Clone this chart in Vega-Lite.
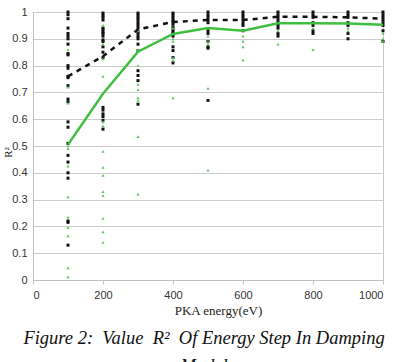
{
  "$schema": "https://vega.github.io/schema/vega-lite/v6.json",
  "width": 350,
  "height": 268,
  "autosize": "none",
  "padding": {"left": 33, "top": 12, "right": 15, "bottom": 82},
  "background": "white",
  "config": {
    "view": {"stroke": "#c8c8c8", "strokeWidth": 1},
    "font": "Liberation Sans"
  },
  "title": {
    "text": ["Figure 2:\u00a0 Value\u00a0 R²\u00a0 Of Energy Step In Damping", "Model"],
    "orient": "bottom",
    "anchor": "middle",
    "dx": -4,
    "font": "Liberation Serif",
    "fontStyle": "italic",
    "fontWeight": "normal",
    "fontSize": 18.5,
    "lineHeight": 28,
    "color": "#111",
    "offset": 12
  },
  "datasets": {
    "trials": [
      {"e":100,"r":1.0,"s":"dense"},{"e":100,"r":0.99,"s":"dense"},{"e":100,"r":0.975,"s":"dense"},{"e":100,"r":0.94,"s":"dense"},{"e":100,"r":0.92,"s":"dense"},{"e":100,"r":0.91,"s":"dense"},{"e":100,"r":0.90,"s":"dense"},{"e":100,"r":0.88,"s":"dense"},{"e":100,"r":0.845,"s":"dense"},{"e":100,"r":0.84,"s":"dense"},{"e":100,"r":0.80,"s":"dense"},{"e":100,"r":0.79,"s":"dense"},{"e":100,"r":0.76,"s":"dense"},{"e":100,"r":0.755,"s":"dense"},{"e":100,"r":0.725,"s":"dense"},{"e":100,"r":0.675,"s":"dense"},{"e":100,"r":0.665,"s":"dense"},{"e":100,"r":0.59,"s":"dense"},{"e":100,"r":0.57,"s":"dense"},{"e":100,"r":0.51,"s":"dense"},{"e":100,"r":0.465,"s":"dense"},{"e":100,"r":0.44,"s":"dense"},{"e":100,"r":0.40,"s":"dense"},{"e":100,"r":0.38,"s":"dense"},{"e":100,"r":0.22,"s":"dense"},{"e":100,"r":0.215,"s":"dense"},{"e":100,"r":0.13,"s":"dense"},
      {"e":100,"r":0.86,"s":"sparse"},{"e":100,"r":0.72,"s":"sparse"},{"e":100,"r":0.66,"s":"sparse"},{"e":100,"r":0.50,"s":"sparse"},{"e":100,"r":0.49,"s":"sparse"},{"e":100,"r":0.425,"s":"sparse"},{"e":100,"r":0.31,"s":"sparse"},{"e":100,"r":0.235,"s":"sparse"},{"e":100,"r":0.195,"s":"sparse"},{"e":100,"r":0.165,"s":"sparse"},{"e":100,"r":0.045,"s":"sparse"},{"e":100,"r":0.012,"s":"sparse"},
      {"e":200,"r":0.996,"s":"dense"},{"e":200,"r":0.988,"s":"dense"},{"e":200,"r":0.98,"s":"dense"},{"e":200,"r":0.97,"s":"dense"},{"e":200,"r":0.94,"s":"dense"},{"e":200,"r":0.934,"s":"dense"},{"e":200,"r":0.925,"s":"dense"},{"e":200,"r":0.92,"s":"dense"},{"e":200,"r":0.91,"s":"dense"},{"e":200,"r":0.896,"s":"dense"},{"e":200,"r":0.89,"s":"dense"},{"e":200,"r":0.87,"s":"dense"},{"e":200,"r":0.85,"s":"dense"},{"e":200,"r":0.83,"s":"dense"},{"e":200,"r":0.644,"s":"dense"},{"e":200,"r":0.634,"s":"dense"},{"e":200,"r":0.62,"s":"dense"},{"e":200,"r":0.61,"s":"dense"},{"e":200,"r":0.596,"s":"dense"},{"e":200,"r":0.563,"s":"dense"},
      {"e":200,"r":0.95,"s":"sparse"},{"e":200,"r":0.88,"s":"sparse"},{"e":200,"r":0.825,"s":"sparse"},{"e":200,"r":0.76,"s":"sparse"},{"e":200,"r":0.59,"s":"sparse"},{"e":200,"r":0.575,"s":"sparse"},{"e":200,"r":0.48,"s":"sparse"},{"e":200,"r":0.42,"s":"sparse"},{"e":200,"r":0.39,"s":"sparse"},{"e":200,"r":0.33,"s":"sparse"},{"e":200,"r":0.315,"s":"sparse"},{"e":200,"r":0.23,"s":"sparse"},{"e":200,"r":0.18,"s":"sparse"},{"e":200,"r":0.14,"s":"sparse"},
      {"e":300,"r":0.996,"s":"dense"},{"e":300,"r":0.988,"s":"dense"},{"e":300,"r":0.979,"s":"dense"},{"e":300,"r":0.97,"s":"dense"},{"e":300,"r":0.96,"s":"dense"},{"e":300,"r":0.95,"s":"dense"},{"e":300,"r":0.94,"s":"dense"},{"e":300,"r":0.926,"s":"dense"},{"e":300,"r":0.92,"s":"dense"},{"e":300,"r":0.909,"s":"dense"},{"e":300,"r":0.90,"s":"dense"},{"e":300,"r":0.88,"s":"dense"},{"e":300,"r":0.856,"s":"dense"},{"e":300,"r":0.781,"s":"dense"},{"e":300,"r":0.763,"s":"dense"},{"e":300,"r":0.744,"s":"dense"},{"e":300,"r":0.656,"s":"dense"},
      {"e":300,"r":0.93,"s":"sparse"},{"e":300,"r":0.86,"s":"sparse"},{"e":300,"r":0.80,"s":"sparse"},{"e":300,"r":0.73,"s":"sparse"},{"e":300,"r":0.71,"s":"sparse"},{"e":300,"r":0.68,"s":"sparse"},{"e":300,"r":0.67,"s":"sparse"},{"e":300,"r":0.535,"s":"sparse"},{"e":300,"r":0.32,"s":"sparse"},
      {"e":400,"r":0.996,"s":"dense"},{"e":400,"r":0.988,"s":"dense"},{"e":400,"r":0.979,"s":"dense"},{"e":400,"r":0.97,"s":"dense"},{"e":400,"r":0.964,"s":"dense"},{"e":400,"r":0.955,"s":"dense"},{"e":400,"r":0.944,"s":"dense"},{"e":400,"r":0.934,"s":"dense"},{"e":400,"r":0.925,"s":"dense"},{"e":400,"r":0.92,"s":"dense"},{"e":400,"r":0.91,"s":"dense"},{"e":400,"r":0.87,"s":"dense"},{"e":400,"r":0.856,"s":"dense"},{"e":400,"r":0.83,"s":"dense"},{"e":400,"r":0.81,"s":"dense"},
      {"e":400,"r":0.94,"s":"sparse"},{"e":400,"r":0.90,"s":"sparse"},{"e":400,"r":0.89,"s":"sparse"},{"e":400,"r":0.83,"s":"sparse"},{"e":400,"r":0.82,"s":"sparse"},{"e":400,"r":0.68,"s":"sparse"},
      {"e":500,"r":1.0,"s":"dense"},{"e":500,"r":0.99,"s":"dense"},{"e":500,"r":0.98,"s":"dense"},{"e":500,"r":0.97,"s":"dense"},{"e":500,"r":0.96,"s":"dense"},{"e":500,"r":0.93,"s":"dense"},{"e":500,"r":0.92,"s":"dense"},{"e":500,"r":0.89,"s":"dense"},{"e":500,"r":0.87,"s":"dense"},{"e":500,"r":0.865,"s":"dense"},{"e":500,"r":0.67,"s":"dense"},
      {"e":500,"r":0.91,"s":"sparse"},{"e":500,"r":0.89,"s":"sparse"},{"e":500,"r":0.88,"s":"sparse"},{"e":500,"r":0.715,"s":"sparse"},{"e":500,"r":0.41,"s":"sparse"},
      {"e":600,"r":1.0,"s":"dense"},{"e":600,"r":0.99,"s":"dense"},{"e":600,"r":0.98,"s":"dense"},{"e":600,"r":0.97,"s":"dense"},{"e":600,"r":0.96,"s":"dense"},{"e":600,"r":0.95,"s":"dense"},{"e":600,"r":0.93,"s":"dense"},
      {"e":600,"r":0.91,"s":"sparse"},{"e":600,"r":0.89,"s":"sparse"},{"e":600,"r":0.87,"s":"sparse"},{"e":600,"r":0.82,"s":"sparse"},
      {"e":700,"r":1.0,"s":"dense"},{"e":700,"r":0.99,"s":"dense"},{"e":700,"r":0.98,"s":"dense"},{"e":700,"r":0.97,"s":"dense"},{"e":700,"r":0.96,"s":"dense"},{"e":700,"r":0.95,"s":"dense"},{"e":700,"r":0.94,"s":"dense"},{"e":700,"r":0.92,"s":"dense"},{"e":700,"r":0.91,"s":"dense"},
      {"e":700,"r":0.93,"s":"sparse"},{"e":700,"r":0.88,"s":"sparse"},
      {"e":800,"r":1.0,"s":"dense"},{"e":800,"r":0.99,"s":"dense"},{"e":800,"r":0.98,"s":"dense"},{"e":800,"r":0.96,"s":"dense"},{"e":800,"r":0.95,"s":"dense"},{"e":800,"r":0.93,"s":"dense"},{"e":800,"r":0.92,"s":"dense"},
      {"e":800,"r":0.94,"s":"sparse"},{"e":800,"r":0.86,"s":"sparse"},
      {"e":900,"r":1.0,"s":"dense"},{"e":900,"r":0.99,"s":"dense"},{"e":900,"r":0.98,"s":"dense"},{"e":900,"r":0.96,"s":"dense"},{"e":900,"r":0.95,"s":"dense"},{"e":900,"r":0.92,"s":"dense"},{"e":900,"r":0.90,"s":"dense"},
      {"e":900,"r":0.94,"s":"sparse"},{"e":900,"r":0.93,"s":"sparse"},
      {"e":1000,"r":1.0,"s":"dense"},{"e":1000,"r":0.99,"s":"dense"},{"e":1000,"r":0.98,"s":"dense"},{"e":1000,"r":0.97,"s":"dense"},{"e":1000,"r":0.96,"s":"dense"},{"e":1000,"r":0.95,"s":"dense"},{"e":1000,"r":0.93,"s":"dense"},{"e":1000,"r":0.89,"s":"dense"},
      {"e":1000,"r":0.92,"s":"sparse"},{"e":1000,"r":0.90,"s":"sparse"},{"e":1000,"r":0.89,"s":"sparse"}
    ],
    "means": [
      {"e":100,"r":0.76,"s":"dense"},{"e":200,"r":0.835,"s":"dense"},{"e":300,"r":0.935,"s":"dense"},{"e":400,"r":0.963,"s":"dense"},{"e":500,"r":0.97,"s":"dense"},{"e":600,"r":0.97,"s":"dense"},{"e":700,"r":0.982,"s":"dense"},{"e":800,"r":0.982,"s":"dense"},{"e":900,"r":0.98,"s":"dense"},{"e":1000,"r":0.975,"s":"dense"},
      {"e":100,"r":0.505,"s":"sparse"},{"e":200,"r":0.695,"s":"sparse"},{"e":300,"r":0.852,"s":"sparse"},{"e":400,"r":0.918,"s":"sparse"},{"e":500,"r":0.94,"s":"sparse"},{"e":600,"r":0.93,"s":"sparse"},{"e":700,"r":0.958,"s":"sparse"},{"e":800,"r":0.958,"s":"sparse"},{"e":900,"r":0.957,"s":"sparse"},{"e":1000,"r":0.952,"s":"sparse"}
    ]
  },
  "encoding": {
    "x": {
      "field": "e", "type": "quantitative",
      "scale": {"domain": [0, 1000], "nice": false, "zero": true},
      "axis": {
        "title": "PKA energy(eV)",
        "titleFont": "Liberation Serif", "titleFontWeight": "normal", "titleFontSize": 13, "titleColor": "#222",
        "titlePadding": 4, "titleX": 185,
        "values": [0, 200, 400, 600, 800, 1000],
        "format": "d",
        "grid": false,
        "domainColor": "#c0c0c0", "tickColor": "#c0c0c0", "tickSize": 4,
        "labelFontSize": 11, "labelColor": "#333", "labelPadding": 5
      }
    },
    "y": {
      "field": "r", "type": "quantitative",
      "scale": {"domain": [0, 1], "nice": false},
      "axis": {
        "title": "R²",
        "titleFont": "Liberation Serif", "titleFontWeight": "normal", "titleFontSize": 11, "titleColor": "#222",
        "titleX": -20, "titleY": 140, "titleAngle": -90,
        "values": [0, 0.1, 0.2, 0.3, 0.4, 0.5, 0.6, 0.7, 0.8, 0.9, 1],
        "format": "~g",
        "grid": true, "gridColor": "#cccccc",
        "domainColor": "#c0c0c0", "ticks": false,
        "labelFontSize": 11, "labelColor": "#333", "labelPadding": 6
      }
    }
  },
  "layer": [
    {
      "data": {"name": "trials"},
      "transform": [{"filter": "datum.s === 'dense'"}],
      "mark": {"type": "point", "shape": "square", "filled": true, "size": 9, "color": "#111", "opacity": 1}
    },
    {
      "data": {"name": "trials"},
      "transform": [{"filter": "datum.s === 'sparse'"}],
      "mark": {"type": "point", "shape": "triangle-up", "filled": true, "size": 10, "color": "#5fc45f", "opacity": 1}
    },
    {
      "data": {"name": "means"},
      "transform": [{"filter": "datum.s === 'dense'"}],
      "mark": {"type": "line", "color": "#111", "strokeWidth": 2.5, "strokeDash": [5, 5]}
    },
    {
      "data": {"name": "means"},
      "transform": [{"filter": "datum.s === 'sparse'"}],
      "mark": {"type": "line", "color": "#3fbf3f", "strokeWidth": 2.5}
    }
  ]
}
